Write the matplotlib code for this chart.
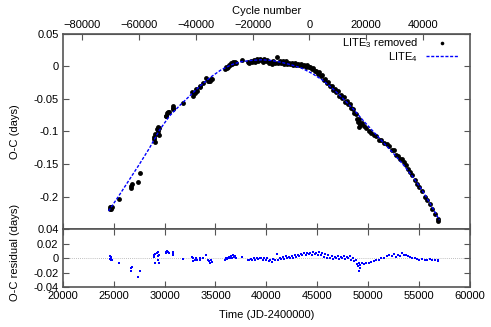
import numpy as np
import matplotlib
matplotlib.use("Agg")
import matplotlib.pyplot as plt
from matplotlib.lines import Line2D

plt.rcParams['font.family'] = ['Liberation Sans', 'DejaVu Sans']
plt.rcParams['mathtext.fontset'] = 'custom'
plt.rcParams['mathtext.rm'] = 'Liberation Sans'
plt.rcParams['mathtext.it'] = 'Liberation Sans:italic'
plt.rcParams['font.size'] = 8

# LITE4 model curve
model_jd = [24500, 25500, 26500, 27500, 28500, 29500, 30500, 31500, 32500, 33500,
            34500, 35500, 36500, 37500, 38500, 39500, 40500, 41500, 42500, 43500,
            44500, 45500, 46500, 47500, 48500, 49500, 50500, 51500, 52500, 53500,
            54500, 55500, 56500, 57000]
model_oc = [-0.222, -0.199, -0.175, -0.151, -0.126, -0.098, -0.076, -0.060, -0.045, -0.030,
            -0.017, -0.006, 0.002, 0.007, 0.009, 0.010, 0.009, 0.006, 0.002, -0.003,
            -0.011, -0.021, -0.034, -0.049, -0.065, -0.083, -0.100, -0.117, -0.134, -0.152,
            -0.172, -0.195, -0.222, -0.236]

# observations: time, O-C (LITE3 removed), residual
obs_jd = [24620, 24660, 24700, 24740, 24780, 24850, 25550, 26700, 26750, 26780,
          27350, 27550, 28950, 29000, 29050, 29100, 29300, 29350, 29380, 29400,
          29420, 29440, 30100, 30150, 30250, 30350, 30450, 30800, 30820, 30850,
          31860, 32700, 32750, 32800, 32950, 33100, 33150, 33450, 33500, 33800,
          34100, 34250, 34400, 34500, 34600, 34700, 35900, 36000, 36100, 36200,
          36300, 36400, 36500, 36600, 36700, 36800, 36900, 37000, 37600, 38150,
          38300, 38450, 38600, 38750, 38900, 39050, 39200, 39350, 39500, 39650,
          39800, 39950, 40100, 40250, 40400, 40550, 40700, 40850, 41000, 41150,
          41300, 41450, 41600, 41750, 41900, 42050, 42200, 42350, 42500, 42650,
          42800, 42950, 43100, 43250, 43400, 43550, 43700, 43850, 44000, 44150,
          44300, 44450, 44600, 44750, 44900, 45050, 45200, 45350, 45500, 45650,
          45800, 45950, 46100, 46250, 46400, 46550, 46700, 46850, 47000, 47150,
          47300, 47450, 47600, 47750, 47900, 48050, 48200, 48350, 48500, 48650,
          48800, 48900, 49000, 49050, 49100, 49150, 49200, 49350, 49550, 49800,
          50050, 50300, 50550, 50800, 51050, 51300, 51550, 51800, 52000, 52350,
          52550, 52700, 52900, 53150, 53350, 53500, 53700, 53900, 54100, 54300,
          54600, 54800, 55000, 55300, 55600, 55800, 56050, 56300, 56600, 56850,
          56900]
obs_oc = [-0.2162, -0.2193, -0.2154, -0.2185, -0.2156, -0.2160, -0.2038, -0.183, -0.186, -0.180,
          -0.178, -0.164, -0.1114, -0.108, -0.1166, -0.1032, -0.0956, -0.0992, -0.0924, -0.1038,
          -0.0952, -0.1057, -0.0758, -0.0757, -0.0715, -0.0703, -0.0701, -0.0632, -0.0659, -0.0614,
          -0.0556, -0.040, -0.0453, -0.0405, -0.0413, -0.035, -0.0373, -0.0308, -0.032, -0.0251,
          -0.0182, -0.0223, -0.0223, -0.023, -0.0189, -0.0198, -0.0048, -0.001, -0.0022, -0.0004,
          0.0024, 0.0022, 0.005, 0.0035, 0.007, 0.0055, 0.007, 0.0055, 0.0092, 0.0063,
          0.0056, 0.0079, 0.0071, 0.0093, 0.0064, 0.0106, 0.0087, 0.0109, 0.010, 0.0069,
          0.0107, 0.0076, 0.0094, 0.0053, 0.0071, 0.0039, 0.0074, 0.0050, 0.0135, 0.0051,
          0.0076, 0.0052, 0.0076, 0.004, 0.0074, 0.0038, 0.0052, 0.0036, 0.005, 0.0023,
          0.0045, 0.0018, 0.004, 0.0013, 0.0035, 0.0007, 0.0026, -0.0005, 0.0015, -0.0016,
          -0.0006, -0.0047, -0.0021, -0.0065, -0.007, -0.0115, -0.009, -0.0155, -0.014, -0.0210,
          -0.0189, -0.0259, -0.0248, -0.0308, -0.0297, -0.0358, -0.035, -0.0393, -0.0385, -0.0448,
          -0.044, -0.0483, -0.0476, -0.054, -0.0534, -0.0578, -0.0572, -0.0646, -0.065, -0.0717,
          -0.0724, -0.0802, -0.085, -0.0809, -0.0938, -0.0897, -0.0866, -0.0873, -0.0919, -0.0941,
          -0.0994, -0.1016, -0.1049, -0.1071, -0.1124, -0.1136, -0.1169, -0.1191, -0.1215, -0.1285,
          -0.1289, -0.1356, -0.1372, -0.1427, -0.1423, -0.147, -0.152, -0.157, -0.162, -0.167,
          -0.1743, -0.1799, -0.1855, -0.1914, -0.2007, -0.2051, -0.211, -0.2196, -0.2268, -0.2348,
          -0.2372]
obs_res = [0.003, -0.001, 0.002, -0.002, 0.000, -0.002, -0.006, -0.013, -0.017, -0.012,
           -0.026, -0.017, 0.002, 0.004, -0.006, 0.006, 0.008, 0.003, 0.009, -0.003,
           0.005, -0.006, 0.009, 0.008, 0.010, 0.009, 0.007, 0.008, 0.005, 0.009,
           -0.001, 0.002, -0.004, 0.000, -0.003, 0.001, -0.002, 0.000, -0.002, 0.001,
           0.004, -0.002, -0.004, -0.006, -0.003, -0.005, -0.002, 0.001, -0.001, 0.000,
           0.002, 0.001, 0.003, 0.001, 0.004, 0.002, 0.003, 0.001, 0.002, -0.002,
           -0.003, -0.001, -0.002, 0.000, -0.003, 0.001, -0.001, 0.001, 0.000, -0.003,
           0.001, -0.002, 0.000, -0.004, -0.002, -0.005, -0.001, -0.003, 0.006, -0.002,
           0.001, -0.001, 0.002, -0.001, 0.003, 0.000, 0.002, 0.001, 0.003, 0.001,
           0.004, 0.002, 0.005, 0.003, 0.006, 0.004, 0.007, 0.005, 0.008, 0.006,
           0.008, 0.005, 0.009, 0.006, 0.008, 0.005, 0.009, 0.004, 0.007, 0.002,
           0.006, 0.001, 0.004, 0.000, 0.003, -0.001, 0.002, 0.000, 0.003, -0.001,
           0.002, 0.000, 0.003, -0.001, 0.002, 0.000, 0.003, -0.002, 0.000, -0.004,
           -0.002, -0.008, -0.011, -0.006, -0.018, -0.013, -0.009, -0.007, -0.008, -0.006,
           -0.007, -0.005, -0.004, -0.002, -0.003, 0.000, 0.001, 0.003, 0.004, 0.003,
           0.006, 0.002, 0.004, 0.003, 0.007, 0.005, 0.004, 0.003, 0.002, 0.001,
           0.000, -0.001, -0.002, -0.001, -0.003, -0.002, -0.001, -0.003, -0.002, -0.003,
           -0.004]

period = 0.2788
t0 = 44224.0

x_ticks = [20000, 25000, 30000, 35000, 40000, 45000, 50000, 55000, 60000]
y_ticks_top = [0.05, 0, -0.05, -0.1, -0.15, -0.2]
y_ticks_res = [0.04, 0.02, 0, -0.02, -0.04]
cycle_ticks = [-80000, -60000, -40000, -20000, 0, 20000, 40000]

W, H = 491, 327
fig = plt.figure(figsize=(W / 100, H / 100), dpi=100)
gray = '#555555'

ax1 = fig.add_axes([62.7 / W, 1 - 229.3 / H, (470 - 62.7) / W, (229.3 - 33.7) / H])
ax2 = fig.add_axes([62.7 / W, 1 - 287.3 / H, (470 - 62.7) / W, (287.3 - 229.3) / H], sharex=ax1)

for ax in (ax1, ax2):
    for s in ax.spines.values():
        s.set_color(gray)
        s.set_linewidth(1.2)
    ax.tick_params(direction='in', length=4, width=0.8, color=gray, labelsize=8,
                   top=True, right=True, pad=3)

ax1.plot(obs_jd, obs_oc, 'o', color='black', markersize=3.5, markeredgewidth=0,
         zorder=2)
ax1.plot(model_jd, model_oc, color='#0000ff', linewidth=1.0, dashes=(2.2, 1.2),
         zorder=3)
ax1.set_xlim(20000, 60000)
ax1.set_ylim(-0.25, 0.05)
ax1.set_yticks(y_ticks_top)
ax1.set_yticklabels(['0.05', '0', '-0.05', '-0.1', '-0.15', '-0.2'])
ax1.set_xticks(x_ticks)
ax1.tick_params(labelbottom=False, top=False)
ax1.set_ylabel('O-C (days)', fontsize=8)
ax1.yaxis.set_label_coords(-0.105, 0.5)

sec = ax1.secondary_xaxis('top', functions=(lambda t: (np.asarray(t) - t0) / period,
                                            lambda e: np.asarray(e) * period + t0))
sec.set_xticks(cycle_ticks)
sec.tick_params(direction='in', length=4, width=0.8, color=gray, labelsize=8, pad=3)
sec.spines['top'].set_color(gray)
sec.set_xlabel('Cycle number', fontsize=8, labelpad=4)

h1 = Line2D([], [], marker='o', linestyle='none', color='black', markersize=2.6,
            markeredgewidth=0)
h2 = Line2D([], [], color='#0000ff', linewidth=1.0, dashes=(2.2, 1.2))
leg = ax1.legend([h1, h2], ['LITE$_3$ removed', 'LITE$_4$'], loc='upper right',
                 bbox_to_anchor=(0.987, 1.02), frameon=False, markerfirst=False,
                 handlelength=2.9, handletextpad=0.7, labelspacing=0.0, fontsize=8,
                 borderaxespad=0.2)
for t in leg.get_texts():
    t.set_ha('right')

ax2.axhline(0, color='#aaaaaa', linewidth=0.6, linestyle=(0, (1, 1.5)), zorder=1)
ax2.plot(obs_jd, obs_res, 's', color='#0000ff', markersize=1.7, markeredgewidth=0,
         zorder=2)
ax2.set_ylim(-0.04, 0.04)
ax2.set_yticks(y_ticks_res)
ax2.set_yticklabels(['0.04', '0.02', '0', '-0.02', '-0.04'])
ax2.set_xticks(x_ticks)
ax2.set_xticklabels([str(v) for v in x_ticks])
ax2.set_xlabel('Time (JD-2400000)', fontsize=8, labelpad=6)
ax2.set_ylabel('O-C residual (days)', fontsize=8)
ax2.yaxis.set_label_coords(-0.105, 0.6)

fig.savefig('out.png', dpi=100)
